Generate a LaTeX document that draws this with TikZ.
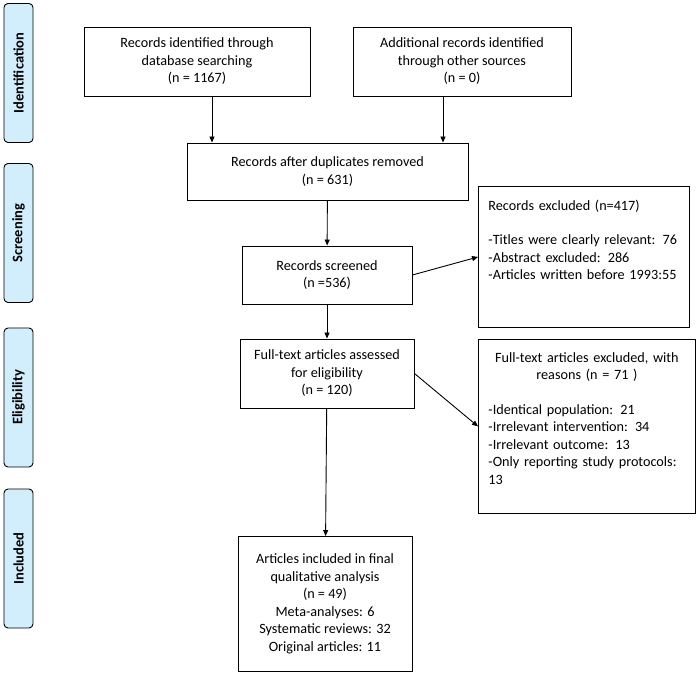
\documentclass[tikz,border=0pt]{standalone}
\usepackage{fontspec}
\setmainfont{Carlito}
\usetikzlibrary{arrows.meta}
\definecolor{stagefill}{RGB}{210,238,252}

\begin{document}
\begin{tikzpicture}[x=1pt, y=-1pt, >={Triangle[length=6pt,width=5pt]},
		b/.style={rectangle, draw, line width=0.9pt, align=center, inner sep=0pt, font=\fontsize{14.2}{17.5}\selectfont},
		s/.style={rectangle, rounded corners=4pt, draw, line width=0.9pt, fill=stagefill, rotate=90, minimum width=139pt, minimum height=29pt, inner sep=0pt, font=\fontsize{14.5}{16}\selectfont\bfseries},
		a/.style={->, line width=0.9pt}]
		\useasboundingbox (0,0) rectangle (697,676);

		% stage labels
		\node[s] (ident) at (18.5,73) {Identification};
		\node[s] (screen) at (18.5,233) {Screening};
		\node[s] (elig) at (18.5,397.5) {Eligibility};
		\node[s] (incl) at (18.5,558.5) {Included};

		% flow boxes
		\node[b, minimum width=226pt, minimum height=69pt] (db) at (197,61.5) {Records identified through\\ database searching\\ (n = 1167)};
		\node[b, minimum width=218pt, minimum height=69pt] (other) at (462,61.5) {Additional records identified\\ through other sources\\ (n = 0)};
		\node[b, minimum width=281pt, minimum height=57pt] (dup) at (327.5,171.5) {Records after duplicates removed\\ (n = 631)};
		\node[b, minimum width=170pt, minimum height=58pt] (scr) at (327,275) {Records screened\\ (n =536)};
		\node[b, minimum width=174pt, minimum height=69pt] (full) at (327,373.5) {Full-text articles assessed\\ for eligibility\\ (n = 120)};
		\node[b, minimum width=174pt, minimum height=135pt] (final) at (325,604) {Articles included in final\\ qualitative analysis\\ (n = 49)\\ Meta-analyses: 6\\ Systematic reviews: 32\\ Original articles: 11};

		\node[b, align=left, text width=191pt, inner xsep=10pt, text height=24pt, text depth=117pt, anchor=north west] (excl) at (478,186) {Records excluded (n=417)\\[17pt]
			-Titles were clearly relevant: 76\\
			-Abstract excluded: 286\\
			-Articles written before 1993:55};
		\node[b, align=left, text width=197pt, inner xsep=10pt, text height=23pt, text depth=151pt, anchor=north west] (fexcl) at (478,339) {{\centering Full-text articles excluded, with\\ reasons (n = 71 )\par}
			\vspace{17pt}
			-Identical population: 21\\
			-Irrelevant intervention: 34\\
			-Irrelevant outcome: 13\\
			-Only reporting study protocols:\\
			13};

		\draw[a] ([xshift=15pt]db.south) -- ([xshift=15pt]db.south |- dup.north);
		\draw[a] ([xshift=-19pt]other.south) -- ([xshift=-19pt]other.south |- dup.north);
		\draw[a] (dup) -- (scr);
		\draw[a] (scr) -- (full);
		\draw[a] (full) -- (final);
		\draw[a] (scr.east) -- (excl.west);
		\draw[a] (full.east) -- (fexcl.west);
	\end{tikzpicture}
\end{document}
